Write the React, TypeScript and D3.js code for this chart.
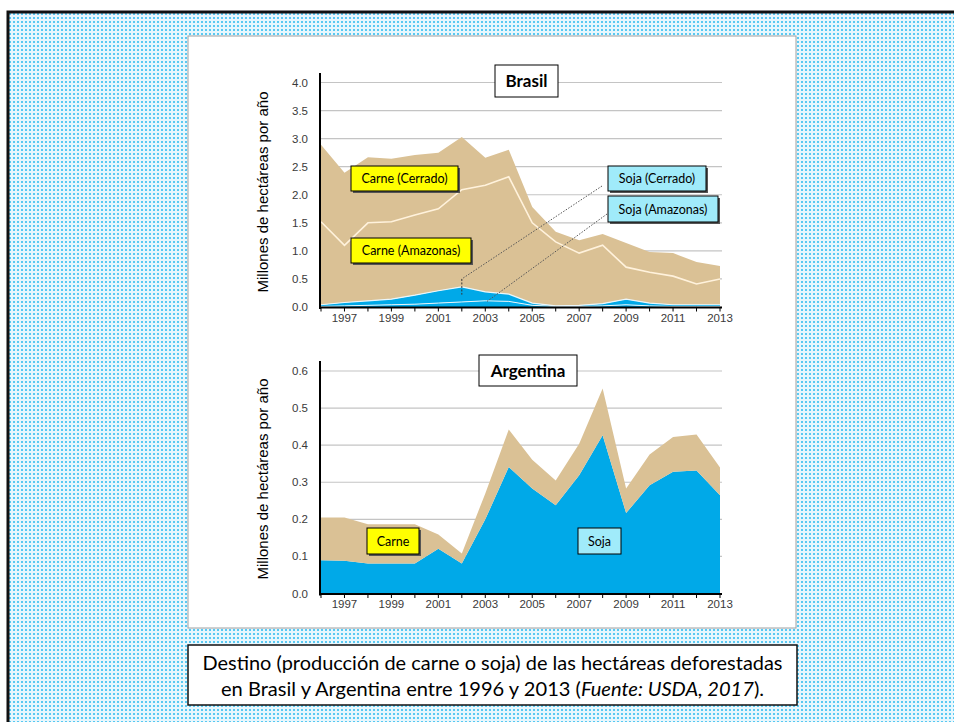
import React from "react";
import * as d3 from "d3";

const years = [1996, 1997, 1998, 1999, 2000, 2001, 2002, 2003, 2004, 2005, 2006, 2007, 2008, 2009, 2010, 2011, 2012, 2013];

// Brasil (millones de ha / año), stacked bottom -> top
const brSojaAmazonas = [0.01, 0.02, 0.03, 0.04, 0.05, 0.07, 0.09, 0.11, 0.1, 0.03, 0.01, 0.01, 0.02, 0.04, 0.02, 0.01, 0.01, 0.01];
const brSojaCerrado = [0.03, 0.06, 0.08, 0.1, 0.16, 0.22, 0.27, 0.16, 0.13, 0.04, 0.01, 0.02, 0.04, 0.1, 0.05, 0.03, 0.03, 0.03];
const brCarneAmazonas = [1.48, 1.02, 1.39, 1.38, 1.43, 1.46, 1.73, 1.9, 2.09, 1.43, 1.14, 0.93, 1.04, 0.57, 0.55, 0.51, 0.37, 0.46];
const brCarneCerrado = [1.37, 1.29, 1.17, 1.12, 1.07, 1.0, 0.94, 0.49, 0.48, 0.28, 0.18, 0.23, 0.2, 0.43, 0.36, 0.41, 0.39, 0.23];

// Argentina
const arSoja = [0.09, 0.088, 0.081, 0.081, 0.081, 0.121, 0.081, 0.2, 0.341, 0.283, 0.238, 0.319, 0.427, 0.217, 0.292, 0.328, 0.332, 0.265];
const arCarne = [0.115, 0.117, 0.106, 0.106, 0.106, 0.038, 0.027, 0.07, 0.101, 0.078, 0.067, 0.085, 0.126, 0.066, 0.083, 0.094, 0.097, 0.075];

const brYTicks = [0, 0.5, 1, 1.5, 2, 2.5, 3, 3.5, 4];
const arYTicks = [0, 0.1, 0.2, 0.3, 0.4, 0.5, 0.6];
const xTickLabels = [1997, 1999, 2001, 2003, 2005, 2007, 2009, 2011, 2013];

const BLUE = "#00a9e8";
const TAN = "#dac195";
const YELLOW = "#ffff00";
const CYAN = "#a0ebfa";
const TICK_FONT = "'Liberation Sans', Arial, sans-serif";
const BOX_FONT = "Lato, 'Open Sans', sans-serif";

const x = d3.scaleLinear().domain([1996, 2013]).range([321, 720]);
const yBr = d3.scaleLinear().domain([0, 4]).range([307, 82.5]);
const yAr = d3.scaleLinear().domain([0, 0.6]).range([593.5, 371]);

function Box({ x0, y0, w, h, fill, text, bold = false, size = 12.5, shadow = true }) {
  return (
    <g>
      {shadow && <rect x={x0 + 2} y={y0 + 2} width={w} height={h} fill="#555" />}
      <rect x={x0} y={y0} width={w} height={h} fill={fill} stroke="#000" strokeWidth={1} />
      <text
        x={x0 + w / 2}
        y={y0 + h / 2}
        dy="0.36em"
        textAnchor="middle"
        fontFamily={BOX_FONT}
        fontSize={size}
        fontWeight={bold ? 700 : 400}
        fill="#000"
      >
        {text}
      </text>
    </g>
  );
}

function Axes({ y, ticks, fmt, axisTop, yTitleCenter, labelY }) {
  const y0 = y(0);
  return (
    <g>
      <line x1={320} x2={320} y1={axisTop} y2={y0 + 2} stroke="#000" strokeWidth={2} />
      <line x1={319} x2={722} y1={y0 + 0.5} y2={y0 + 0.5} stroke="#000" strokeWidth={2} />
      {years.map((yr) => (
        <line key={yr} x1={x(yr)} x2={x(yr)} y1={y0} y2={y0 + 4.5} stroke="#000" strokeWidth={1} />
      ))}
      {xTickLabels.map((yr) => (
        <text key={yr} x={x(yr)} y={labelY} textAnchor="middle" fontFamily={TICK_FONT} fontSize={11.5} fill="#3a3a3a">
          {yr}
        </text>
      ))}
      {ticks.map((t) => (
        <text key={t} x={308} y={y(t)} dy="0.35em" textAnchor="end" fontFamily={TICK_FONT} fontSize={11.5} fill="#3a3a3a">
          {fmt(t)}
        </text>
      ))}
      <text
        transform={`translate(268,${yTitleCenter}) rotate(-90)`}
        textAnchor="middle"
        fontFamily={TICK_FONT}
        fontSize={15}
        fill="#000"
      >
        Millones de hectáreas por año
      </text>
    </g>
  );
}

export default function App() {
  const brRows = years.map((yr, i) => ({
    year: yr,
    sojaAm: brSojaAmazonas[i],
    sojaCe: brSojaCerrado[i],
    carneAm: brCarneAmazonas[i],
    carneCe: brCarneCerrado[i],
  }));
  const brStack = d3.stack().keys(["sojaAm", "sojaCe", "carneAm", "carneCe"])(brRows);
  const brColors = [BLUE, BLUE, TAN, TAN];
  const brArea = d3
    .area()
    .x((d) => x(d.data.year))
    .y0((d) => yBr(d[0]))
    .y1((d) => yBr(d[1]));
  const brTopLine = d3
    .line()
    .x((d) => x(d.data.year))
    .y((d) => yBr(d[1]));

  const arRows = years.map((yr, i) => ({ year: yr, soja: arSoja[i], carne: arCarne[i] }));
  const arStack = d3.stack().keys(["soja", "carne"])(arRows);
  const arColors = [BLUE, TAN];
  const arArea = d3
    .area()
    .x((d) => x(d.data.year))
    .y0((d) => yAr(d[0]))
    .y1((d) => yAr(d[1]));

  return (
    <svg
      width={954}
      height={722}
      style={{ position: "absolute", left: 0, top: 0, display: "block" }}
      xmlns="http://www.w3.org/2000/svg"
    >
      <defs>
        <pattern id="dots" width={4} height={4} patternUnits="userSpaceOnUse">
          <rect width={4} height={4} fill="#e8f7fd" />
          <rect x={1} y={1} width={2} height={2} fill="#5ac9f2" />
        </pattern>
      </defs>
      <rect x={0} y={0} width={954} height={722} fill="#fff" />
      <rect x={8} y={12} width={960} height={720} fill="url(#dots)" stroke="#111" strokeWidth={3} />

      {/* white panel */}
      <rect x={188} y={36} width={608} height={592} fill="#fff" stroke="#a0a0a0" strokeWidth={1} />

      {/* ---------- Brasil ---------- */}
      {brYTicks.filter((t) => t > 0).map((t) => (
        <line key={t} x1={320} x2={722} y1={yBr(t)} y2={yBr(t)} stroke="#c4c4c4" strokeWidth={1.2} />
      ))}
      {brStack.map((s, i) => (
        <path key={s.key} d={brArea(s)} fill={brColors[i]} />
      ))}
      <path d={brTopLine(brStack[0])} fill="none" stroke="#e8f6fb" strokeWidth={1} />
      <path d={brTopLine(brStack[1])} fill="none" stroke="#eaf7fc" strokeWidth={1.2} />
      <path d={brTopLine(brStack[2])} fill="none" stroke="#fff2dc" strokeWidth={1.6} />
      <Axes y={yBr} ticks={brYTicks} fmt={d3.format(".1f")} axisTop={73} yTitleCenter={192} labelY={321.5} />

      {/* leader lines */}
      <line x1={602} y1={186} x2={x(2002)} y2={yBr(0.5)} stroke="#555" strokeWidth={1} strokeDasharray="1.5,1.5" />
      <line x1={x(2002)} y1={yBr(0.5)} x2={x(2002)} y2={yBr(0.22)} stroke="#333" strokeWidth={1} strokeDasharray="2,1.5" />
      <line x1={607} y1={214} x2={x(2003) + 1} y2={yBr(0.09)} stroke="#555" strokeWidth={1} strokeDasharray="1.5,1.5" />

      <Box x0={495} y0={65} w={63} h={32} fill="#fff" text="Brasil" bold size={17} shadow={false} />
      <Box x0={351} y0={166} w={107} h={25} fill={YELLOW} text="Carne (Cerrado)" />
      <Box x0={351} y0={238} w={120} h={25} fill={YELLOW} text="Carne (Amazonas)" />
      <Box x0={608} y0={166} w={98} h={25} fill={CYAN} text="Soja (Cerrado)" />
      <Box x0={608} y0={196} w={110} h={26} fill={CYAN} text="Soja (Amazonas)" />

      {/* ---------- Argentina ---------- */}
      {arYTicks.filter((t) => t > 0).map((t) => (
        <line key={t} x1={320} x2={722} y1={yAr(t)} y2={yAr(t)} stroke="#c4c4c4" strokeWidth={1.2} />
      ))}
      {arStack.map((s, i) => (
        <path key={s.key} d={arArea(s)} fill={arColors[i]} />
      ))}
      <Axes y={yAr} ticks={arYTicks} fmt={d3.format(".1f")} axisTop={361} yTitleCenter={479} labelY={608} />

      <Box x0={479} y0={355} w={98} h={31} fill="#fff" text="Argentina" bold size={17} shadow={false} />
      <Box x0={367} y0={528} w={52} h={26} fill={YELLOW} text="Carne" />
      <Box x0={578} y0={528} w={43} h={26} fill={CYAN} text="Soja" shadow={false} />

      {/* caption */}
      <rect x={188} y={645} width={609} height={60} fill="#fff" stroke="#111" strokeWidth={1.5} />
      <text
        x={492.5}
        y={670}
        textAnchor="middle"
        fontFamily={BOX_FONT}
        fontSize={19}
        textLength={580}
        lengthAdjust="spacingAndGlyphs"
        fill="#000"
      >
        Destino (producción de carne o soja) de las hectáreas deforestadas
      </text>
      <text
        x={492.5}
        y={696}
        textAnchor="middle"
        fontFamily={BOX_FONT}
        fontSize={19}
        textLength={543}
        lengthAdjust="spacingAndGlyphs"
        fill="#000"
      >
        en Brasil y Argentina entre 1996 y 2013 (<tspan fontStyle="italic">Fuente: USDA, 2017</tspan>).
      </text>
    </svg>
  );
}
